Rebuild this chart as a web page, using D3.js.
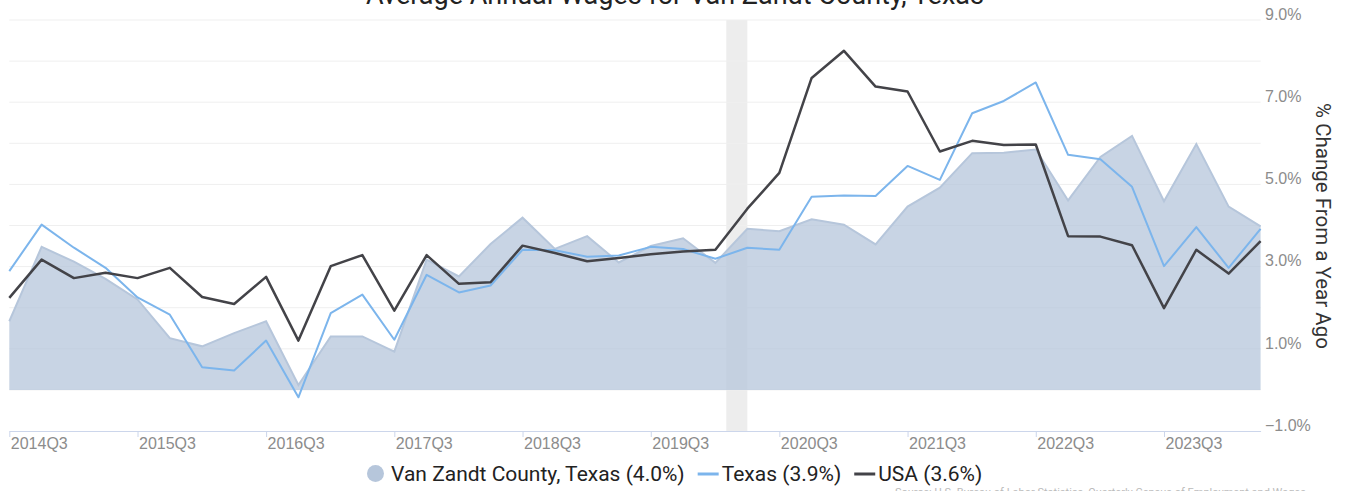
<!DOCTYPE html>
<html>
<head>
<meta charset="utf-8">
<script src="https://cdn.jsdelivr.net/npm/d3@7"></script>
<style>
  body { margin: 0; background: #fff; }
  svg { display: block; font-family: Roboto, "Liberation Sans", sans-serif; }
</style>
</head>
<body>
<svg width="1348" height="491"></svg>
<script>
// quarters shown, 2014Q3 .. 2024Q2
const quarters = ['2014Q3','2014Q4','2015Q1','2015Q2','2015Q3','2015Q4','2016Q1','2016Q2',
  '2016Q3','2016Q4','2017Q1','2017Q2','2017Q3','2017Q4','2018Q1','2018Q2',
  '2018Q3','2018Q4','2019Q1','2019Q2','2019Q3','2019Q4','2020Q1','2020Q2',
  '2020Q3','2020Q4','2021Q1','2021Q2','2021Q3','2021Q4','2022Q1','2022Q2',
  '2022Q3','2022Q4','2023Q1','2023Q2','2023Q3','2023Q4','2024Q1','2024Q2'];

const vanZandt = [1.67, 3.48, 3.12, 2.70, 2.20, 1.26, 1.06, 1.38,
  1.67, 0.12, 1.30, 1.30, 0.93, 3.17, 2.76, 3.55,
  4.19, 3.43, 3.74, 3.10, 3.50, 3.69, 3.09, 3.92,
  3.86, 4.15, 4.02, 3.54, 4.46, 4.92, 5.76, 5.77,
  5.85, 4.61, 5.67, 6.18, 4.59, 5.98, 4.46, 3.98];

const texas = [2.89, 4.02, 3.46, 2.97, 2.25, 1.83, 0.55, 0.47,
  1.20, -0.18, 1.87, 2.32, 1.22, 2.80, 2.37, 2.54,
  3.41, 3.40, 3.24, 3.27, 3.48, 3.43, 3.19, 3.46,
  3.41, 4.70, 4.73, 4.72, 5.45, 5.11, 6.73, 7.03,
  7.48, 5.72, 5.61, 4.94, 3.01, 3.96, 2.97, 3.92];

const usa = [2.24, 3.17, 2.72, 2.85, 2.72, 2.97, 2.26, 2.09,
  2.75, 1.20, 3.01, 3.28, 1.93, 3.28, 2.58, 2.62,
  3.51, 3.33, 3.13, 3.21, 3.30, 3.37, 3.41, 4.41,
  5.28, 7.59, 8.25, 7.38, 7.26, 5.80, 6.06, 5.96,
  5.97, 3.74, 3.73, 3.52, 1.99, 3.41, 2.83, 3.62];

const recessions = [['2020-02-01', '2020-04-01']];
const yTicks = [9, 7, 5, 3, 1, -1];
const legendItems = ['Van Zandt County, Texas (4.0%)', 'Texas (3.9%)', 'USA (3.6%)'];

const svg = d3.select('svg');
const parseQ = q => new Date(+q.slice(0, 4), (+q.slice(5) - 1) * 3, 1);
const dates = quarters.map(parseQ);

const x = d3.scaleTime().domain(d3.extent(dates)).range([9.3, 1260.6]);
const y = d3.scaleLinear().domain([-1, 9]).range([431, 20]);

// recession shading
svg.append('g').selectAll('rect').data(recessions).join('rect')
  .attr('x', d => x(new Date(d[0])))
  .attr('width', d => x(new Date(d[1])) - x(new Date(d[0])))
  .attr('y', y(9))
  .attr('height', y(-1) - y(9))
  .attr('fill', '#ededed');

// grid lines
svg.append('g').selectAll('line').data(d3.range(0, 10)).join('line')
  .attr('x1', x.range()[0]).attr('x2', x.range()[1])
  .attr('y1', d => y(d)).attr('y2', d => y(d))
  .attr('stroke', '#efefef').attr('stroke-width', 1);

// county area
const area = d3.area()
  .x((d, i) => x(dates[i]))
  .y0(y(0))
  .y1(d => y(d));
svg.append('path').datum(vanZandt)
  .attr('d', area)
  .attr('fill', '#b6c6db')
  .attr('fill-opacity', 0.75);
svg.append('path').datum(vanZandt)
  .attr('d', d3.line().x((d, i) => x(dates[i])).y(d => y(d)))
  .attr('fill', 'none')
  .attr('stroke', '#b6c6db')
  .attr('stroke-width', 2);

const line = d3.line().x((d, i) => x(dates[i])).y(d => y(d));
svg.append('path').datum(texas)
  .attr('d', line)
  .attr('fill', 'none')
  .attr('stroke', '#7cb5ec')
  .attr('stroke-width', 2)
  .attr('stroke-linejoin', 'round');
svg.append('path').datum(usa)
  .attr('d', line)
  .attr('fill', 'none')
  .attr('stroke', '#434348')
  .attr('stroke-width', 2.5)
  .attr('stroke-linejoin', 'round');

// x axis
const xTickVals = dates.filter((d, i) => quarters[i].endsWith('Q3'));
const xAxis = svg.append('g')
  .attr('transform', 'translate(0,' + y(-1) + ')')
  .call(d3.axisBottom(x).tickValues(xTickVals).tickSize(6).tickSizeOuter(0)
    .tickFormat(d => quarters[dates.findIndex(q => +q == +d)]));
xAxis.select('.domain').attr('stroke', '#ccd6eb');
xAxis.selectAll('.tick line').attr('stroke', '#ccd6eb');
xAxis.selectAll('.tick text')
  .attr('text-anchor', 'start')
  .attr('x', 1)
  .attr('y', 7)
  .attr('fill', '#8c8c8c')
  .style('font-size', '16px');

// y axis labels on the right
const yAxis = svg.append('g')
  .attr('transform', 'translate(1265,0)')
  .call(d3.axisRight(y).tickValues(yTicks).tickSize(0).tickFormat(d => d3.format('.1f')(d) + '%'));
yAxis.select('.domain').remove();
yAxis.selectAll('.tick text')
  .attr('x', 0)
  .attr('dy', '-0.05em')
  .attr('fill', '#8c8c8c')
  .style('font-size', '16px');

svg.append('text')
  .attr('transform', 'translate(1316,226) rotate(90)')
  .attr('text-anchor', 'middle')
  .attr('fill', '#333')
  .style('font-size', '20.5px')
  .text('% Change From a Year Ago');

// title, cut at the top
svg.append('text')
  .attr('x', 675).attr('y', 4)
  .attr('text-anchor', 'middle')
  .attr('fill', '#222')
  .style('font-size', '27px')
  .text('Average Annual Wages for Van Zandt County, Texas');

// legend
const legend = svg.append('g').attr('transform', 'translate(367,481)');
let lx = 0;
legendItems.forEach((name, i) => {
  if (i == 0) {
    legend.append('circle').attr('cx', lx + 8.5).attr('cy', -7.5).attr('r', 8.5).attr('fill', '#b6c6db');
    lx += 24;
  } else {
    legend.append('line').attr('x1', lx).attr('x2', lx + 21)
      .attr('y1', -7).attr('y2', -7)
      .attr('stroke', i == 1 ? '#7cb5ec' : '#434348').attr('stroke-width', 3);
    lx += 24;
  }
  const t = legend.append('text').attr('x', lx).attr('fill', '#222')
    .style('font-size', '21px').text(name);
  lx += t.node().getComputedTextLength() + 13;
});

// faint source note, mostly cut off at the bottom
svg.append('text')
  .attr('x', 895).attr('y', 496)
  .attr('fill', '#bbb')
  .style('font-size', '11px')
  .text('Source: U.S. Bureau of Labor Statistics, Quarterly Census of Employment and Wages');
</script>
</body>
</html>
